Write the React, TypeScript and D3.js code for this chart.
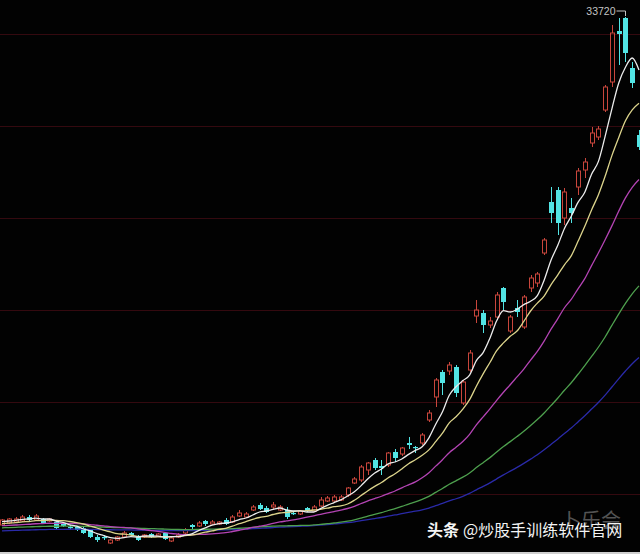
import React from 'react';
import * as d3 from 'd3';

// Daily candles (price units), left to right
const opens = [8.32,8.42,8.47,8.52,8.72,8.57,8.62,8.52,8.47,8.37, 8.22,8.22,8.17,8.07,7.72,7.72,7.42,7.57,7.72,7.92, 7.72,7.72,7.87,7.77,7.92,7.52,7.72,7.92,8.32,8.27, 8.52,8.37,8.37,8.57,8.47,8.77,8.72,9.07,9.32,9.17, 9.22,9.07,9.07,8.92,8.87,9.17,9.02,9.27,9.52,9.52, 9.57,9.82,10.42,10.57,11.07,11.57,11.27,11.32,11.97,11.87, 12.42,12.22,12.42,13.57,14.72,15.97,16.02,16.22,14.42,16.07, 18.77,18.92,18.32,18.72,20.17,18.02,19.17,18.22,20.17,20.42, 21.92,24.47,25.07,23.67,24.17,25.22,26.07,27.42,27.72,29.07, 30.47,33.02,33.67,31.17,27.82];
const closes = [8.57,8.62,8.62,8.72,8.57,8.77,8.42,8.62,8.17,8.27, 8.17,8.07,7.92,7.72,7.57,7.67,7.57,7.72,7.92,7.82, 7.57,7.82,7.72,7.87,7.62,7.67,7.82,8.07,8.22,8.42, 8.37,8.47,8.47,8.37,8.72,8.92,8.87,9.22,9.12,8.97, 9.32,9.22,8.72,8.87,9.02,9.02,9.22,9.57,9.67,9.72, 9.72,10.17,10.62,11.22,11.42,11.17,11.17,11.92,11.67,12.17, 12.32,12.17,12.82,13.92,15.57,15.42,16.32,14.92,15.47,16.92, 19.07,18.32,18.52,19.82,19.47,18.72,18.97,19.72,20.67,20.87, 22.57,23.92,23.42,24.97,23.92,26.02,26.47,27.92,28.12,30.22, 32.92,32.87,31.92,30.42,27.22];
const highs = [8.62,8.67,8.72,8.82,8.82,8.87,8.67,8.67,8.57,8.42, 8.32,8.27,8.22,8.12,7.82,7.82,7.62,7.77,8.02,7.97, 7.82,7.87,7.92,7.92,7.97,7.72,7.92,8.17,8.37,8.52, 8.57,8.57,8.52,8.67,8.82,9.07,8.97,9.32,9.42,9.27, 9.47,9.32,9.22,8.97,9.07,9.22,9.32,9.72,9.77,9.82, 9.82,10.22,10.72,11.32,11.47,11.67,11.57,11.97,12.12,12.22, 12.72,12.27,12.92,14.07,15.67,16.07,16.47,16.32,15.57,17.07, 19.57,19.07,18.72,19.97,20.22,18.82,19.57,19.82,20.82,20.97, 22.67,25.22,25.22,25.17,24.67,26.17,26.67,28.22,28.27,30.32, 33.32,33.67,33.72,31.47,28.07];
const lows = [8.27,8.37,8.42,8.47,8.52,8.52,8.37,8.47,8.12,8.22, 8.12,8.02,7.87,7.67,7.47,7.57,7.37,7.52,7.67,7.77, 7.52,7.67,7.67,7.72,7.57,7.47,7.67,7.87,8.12,8.22, 8.27,8.32,8.32,8.32,8.42,8.72,8.67,9.02,9.07,8.92, 9.12,9.02,8.62,8.82,8.82,8.97,8.97,9.22,9.47,9.47, 9.52,9.72,10.37,10.47,10.82,11.07,10.82,11.22,11.47,11.77, 12.12,11.92,12.32,13.47,14.22,14.82,15.82,14.72,14.32,15.97, 18.42,17.92,18.17,18.62,19.07,17.92,18.72,18.12,19.97,20.22, 21.82,23.42,22.82,23.32,23.42,24.82,25.67,27.22,27.57,28.97, 30.22,31.32,31.47,30.17,27.07];

// Moving averages: periods and their level at the left edge
const maPeriods = [60, 40, 20, 10, 5];
const maSeeds = [8.02, 8.17, 8.27, 8.37, 8.47];
const maColors = ['#2a2aa8', '#4ea04e', '#b444b4', '#dcd48c', '#ececec'];

// horizontal guide levels
const gridLevels = [9.87, 14.47, 19.07, 23.67, 28.27, 32.87];

const W = 640;
const H = 554;
const UP = '#c9463c';
const DOWN = '#52e4e4';

function movingAverage(period: number, seed: number): number[] {
  return closes.map((_, i) => {
    let sum = 0;
    for (let k = i - period + 1; k <= i; k++) sum += k < 0 ? seed : closes[k];
    return sum / period;
  });
}

export default function App() {
  const n = closes.length;
  const x = d3.scaleLinear().domain([0, n - 1]).range([2, 639]);
  const y = d3.scaleLinear().domain([6.87, 34.57]).range([H, 0]);

  const line = d3
    .line<number>()
    .x((_, i) => x(i))
    .y((v) => y(v))
    .curve(d3.curveMonotoneX);

  const peakIdx = d3.maxIndex(highs);
  const peakLabel = String(Math.round(highs[peakIdx] * 1000));
  const px = Math.round(x(peakIdx)) + 0.5;
  const py = y(highs[peakIdx]);

  return (
    <svg
      width={W}
      height={H}
      style={{ position: 'fixed', left: 0, top: 0, display: 'block', background: '#020202' }}
    >
      <rect x={0} y={0} width={W} height={H} fill="#020202" />
      {gridLevels.map((g, i) => (
        <line key={i} x1={0} x2={W} y1={Math.round(y(g)) + 0.5} y2={Math.round(y(g)) + 0.5} stroke="#34090f" strokeWidth={1.2} />
      ))}

      {closes.map((c, i) => {
        const o = opens[i];
        const cx = Math.round(x(i)) + 0.5;
        const yh = y(highs[i]);
        const yl = y(lows[i]);
        const up = c > o;
        const top = y(Math.max(o, c));
        const bot = y(Math.min(o, c));
        if (up) {
          return (
            <g key={i}>
              <line x1={cx} x2={cx} y1={yh} y2={top} stroke={UP} strokeWidth={1} />
              <line x1={cx} x2={cx} y1={bot} y2={yl} stroke={UP} strokeWidth={1} />
              <rect x={cx - 2} y={top} width={4} height={Math.max(1, bot - top)} fill="none" stroke={UP} strokeWidth={1} />
            </g>
          );
        }
        return (
          <g key={i}>
            <line x1={cx} x2={cx} y1={yh} y2={yl} stroke={DOWN} strokeWidth={1} />
            <rect x={cx - 2.5} y={top} width={5} height={Math.max(1.2, bot - top)} fill={DOWN} />
          </g>
        );
      })}

      {maPeriods.map((p, k) => (
        <path key={p} d={line(movingAverage(p, maSeeds[k])) || ''} fill="none" stroke={maColors[k]} strokeWidth={1.3} />
      ))}

      <text x={px - 10} y={py - 2} textAnchor="end" fontFamily="Liberation Sans, Arial, sans-serif" fontSize={10.5} fill="#c4c4c4">
        {peakLabel}
      </text>
      <path d={`M${px - 9},${py - 6}H${px}V${py - 1}`} fill="none" stroke="#c4c4c4" strokeWidth={1} />

      <text x={561} y={528} fontFamily="Noto Sans CJK SC" fontSize={20} fill="#8a8a8a" opacity={0.6}>卜乐会</text>

      <text x={427} y={536} fontFamily="Noto Sans CJK SC" fontSize={16} fill="#f4f4f4">
        <tspan fontWeight={700}>头条</tspan>
        <tspan dx={4}>@炒股手训练软件官网</tspan>
      </text>

      <rect x={0} y={552} width={W} height={2} fill="#cfcfcf" />
    </svg>
  );
}
